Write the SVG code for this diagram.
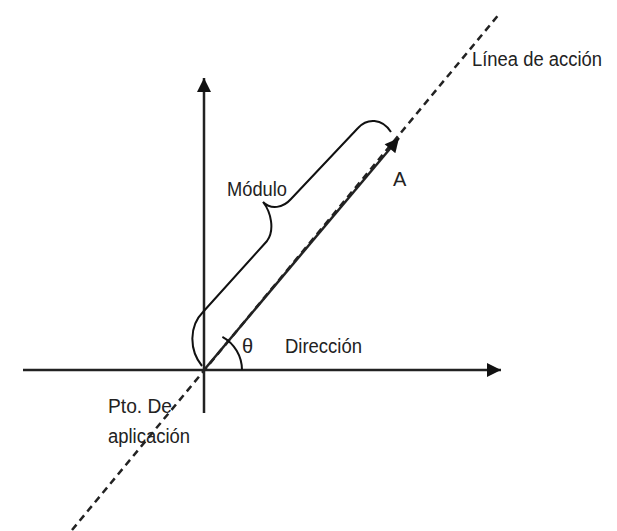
<svg xmlns="http://www.w3.org/2000/svg" width="617" height="531" viewBox="0 0 617 531">
<style>
.t{font-family:"Liberation Sans",Arial,sans-serif;font-size:20px;fill:#222}
.ax{stroke:#222;stroke-width:2.5;fill:none}
.ln{stroke:#111;stroke-width:2;fill:none}
.dash{stroke:#222;stroke-width:2.5;stroke-dasharray:7 5;fill:none}
</style>
<defs>
<marker id="ah" viewBox="0 0 10 10" refX="10" refY="5" markerUnits="userSpaceOnUse" markerWidth="15" markerHeight="14" orient="auto">
<path d="M0,0 L10,5 L0,10 Z" fill="#111"/>
</marker>
</defs>
<rect width="617" height="531" fill="#fff"/>
<g id="connectors">
<line class="dash" x1="72" y1="530" x2="500" y2="13"/>
<line class="ax" x1="23" y1="370" x2="501" y2="370" marker-end="url(#ah)"/>
<line class="ax" x1="204" y1="413" x2="204" y2="78" marker-end="url(#ah)"/>
<line class="ax" x1="204" y1="370" x2="399" y2="138" marker-end="url(#ah)"/>
<path class="ln" d="M242,370 A38,38 0 0 0 222.4,336.8"/>
<path class="ln" d="M202,366 C189,350 189,326 203,312 L267,241 C275,230 271,212 263,202 C271,210 283,208 291,199 L358,128 C367,118 382,118 391,132"/>
</g>
<g id="labels">
<text class="t" x="472" y="66" textLength="130" lengthAdjust="spacingAndGlyphs">Línea de acción</text>
<text class="t" x="227" y="196" textLength="60" lengthAdjust="spacingAndGlyphs">Módulo</text>
<text class="t" x="393" y="186">A</text>
<text class="t" x="242" y="353">θ</text>
<text class="t" x="285" y="353" textLength="77" lengthAdjust="spacingAndGlyphs">Dirección</text>
<text class="t" x="108" y="413" textLength="64" lengthAdjust="spacingAndGlyphs">Pto. De</text>
<text class="t" x="108" y="443" textLength="82" lengthAdjust="spacingAndGlyphs">aplicación</text>
</g>
</svg>
